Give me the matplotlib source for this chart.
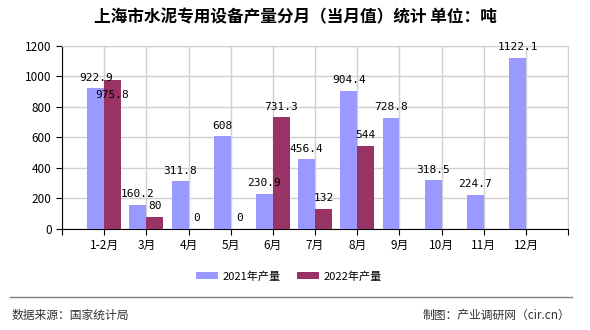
import numpy as np
import matplotlib
matplotlib.use("Agg")
import matplotlib.pyplot as plt
from matplotlib.lines import Line2D

plt.rcParams['font.family'] = ['Noto Sans CJK SC', 'DejaVu Sans']

# data
months = ["1-2月", "3月", "4月", "5月", "6月", "7月", "8月", "9月", "10月", "11月", "12月"]
y2021 = [922.9, 160.2, 311.8, 608, 230.9, 456.4, 904.4, 728.8, 318.5, 224.7, 1122.1]
y2022 = [975.8, 80, 0, 0, 731.3, 132, 544, np.nan, np.nan, np.nan, np.nan]

c2021 = "#9999ff"
c2022 = "#993366"

fig = plt.figure(figsize=(5.9, 3.3), dpi=100)
ax = fig.add_axes([0.105, 0.306, 0.858, 0.555])

x = np.arange(len(months))
w = 0.4
b1 = ax.bar(x - w / 2, y2021, w, color=c2021, label="2021年产量", zorder=3)
b2 = ax.bar(x + w / 2, np.nan_to_num(y2022), w, color=c2022, label="2022年产量", zorder=3)

# value labels
for xi, v in zip(x, y2021):
    ax.annotate(f"{v:g}", (xi - w / 2, v), xytext=(0, 4), textcoords="offset points",
                ha="center", va="bottom", fontsize=8, family="DejaVu Sans Mono", zorder=5)
for xi, v in zip(x, y2022):
    if np.isnan(v):
        continue
    dy = 4
    if xi == 0:
        dy = -14  # pushed down so it doesn't hit the 2021 label
    ax.annotate(f"{v:g}", (xi + w / 2, v), xytext=(0, dy), textcoords="offset points",
                ha="center", va="bottom", fontsize=8, family="DejaVu Sans Mono", zorder=5)

ax.set_xlim(-1, len(months))
ax.set_ylim(0, 1200)
ax.set_yticks(np.arange(0, 1201, 200))
ax.set_xticks(np.arange(-1, len(months) + 1))
ax.set_xticklabels([""] + months + [""], fontsize=8.5)
ax.tick_params(axis="y", labelsize=8.5, length=4, direction="out")
ax.tick_params(axis="x", length=4, direction="out")
ax.grid(True, color="#d0d0d0", linewidth=1, zorder=0)

for s in ["top", "right"]:
    ax.spines[s].set_color("#d0d0d0")
ax.spines["left"].set_color("black")
ax.spines["bottom"].set_color("black")

fig.text(0.5, 0.948, "上海市水泥专用设备产量分月（当月值）统计 单位：吨",
         ha="center", va="center", fontsize=12, fontweight="bold")

fig.legend(handles=[b1, b2], loc="center", bbox_to_anchor=(0.49, 0.163), ncol=2,
           frameon=False, fontsize=8, handlelength=2.0, handleheight=0.55,
           handletextpad=0.4, columnspacing=1.45)

fig.add_artist(Line2D([0.017, 0.97], [0.1, 0.1], color="#808080", linewidth=1))
fig.text(0.02, 0.045, "数据来源：国家统计局", ha="left", va="center", fontsize=8.5, color="#333333")
fig.text(0.966, 0.045, "制图：产业调研网（cir.cn）", ha="right", va="center", fontsize=8.5, color="#333333")

fig.savefig("out.png", dpi=100)
